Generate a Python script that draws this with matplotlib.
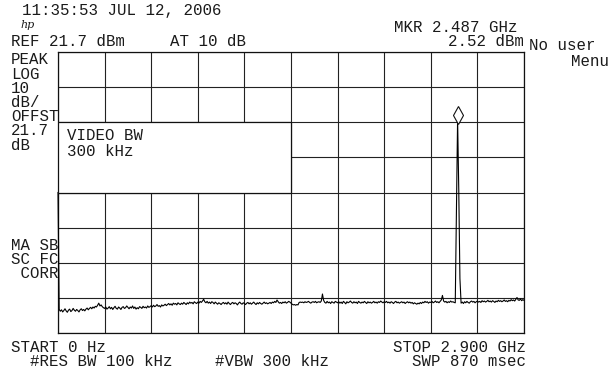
import numpy as np
import matplotlib
matplotlib.use("Agg")
import matplotlib.pyplot as plt
from matplotlib.patches import Rectangle
import matplotlib.transforms as mtransforms

# ---------------- data ----------------
start_ghz = 0.0
stop_ghz = 2.900
ref_level_dbm = 21.7
db_per_div = 10
n_hdiv = 10
n_vdiv = 8
marker_freq_ghz = 2.487
marker_level_dbm = 2.52

trace_dbm = [
    -18.3, -51.6, -52.1, -51.7, -52.3, -51.9, -51.4, -52.0, -52.4, -51.8, -51.5, -52.2, -51.9, -51.3, -51.8, -52.1, -51.6, -51.9, -52.3, -51.7,
    -51.4, -51.9, -51.6, -52.0, -51.5, -51.2, -51.7, -51.3, -51.0, -51.4, -50.9, -51.2, -50.7, -50.9, -50.4, -49.8, -50.6, -50.3, -50.8, -51.1,
    -51.3, -50.9, -51.5, -51.2, -50.8, -51.4, -51.0, -51.6, -51.1, -50.7, -51.3, -51.5, -50.9, -51.2, -51.6, -51.0, -50.8, -51.3, -51.1, -50.6,
    -51.0, -51.4, -50.9, -51.2, -50.6, -51.3, -50.9, -51.5, -51.1, -51.4, -50.8, -51.0, -51.3, -50.7, -51.1, -50.9, -51.2, -50.6, -51.0, -50.8,
    -50.5, -50.9, -50.4, -50.8, -50.6, -50.2, -50.7, -50.5, -50.9, -50.3, -50.6, -50.4, -50.1, -50.5, -50.2, -49.9, -50.3, -50.0, -50.4, -49.8,
    -50.1, -49.9, -50.3, -49.7, -50.0, -50.2, -49.8, -50.1, -49.6, -49.9, -50.2, -49.7, -50.0, -49.5, -49.8, -49.6, -50.0, -49.4, -49.7, -49.9,
    -49.5, -49.8, -49.3, -49.6, -49.2, -48.7, -49.4, -49.7, -49.3, -49.8, -49.5, -49.9, -49.4, -49.6, -50.0, -49.5, -49.8, -50.1, -49.7, -49.9,
    -50.2, -49.8, -49.6, -50.0, -49.7, -50.1, -49.5, -49.9, -50.2, -49.8, -49.6, -50.0, -49.7, -49.9, -50.3, -49.8, -49.5, -49.9, -50.1, -49.7,
    -49.9, -50.2, -49.8, -49.6, -50.0, -49.7, -50.1, -49.8, -49.5, -49.9, -50.2, -49.7, -50.0, -49.6, -49.9, -50.1, -49.8, -49.5, -49.9, -49.7,
    -50.0, -49.8, -49.6, -49.9, -49.5, -49.7, -49.3, -49.6, -48.9, -49.4, -49.8, -49.6, -49.9, -49.5, -49.7, -49.4, -49.8, -49.6, -49.3, -49.5,
    -49.8, -50.1, -50.3, -50.2, -50.4, -50.2, -50.3, -49.6, -49.5, -49.6, -49.5, -49.7, -49.4, -49.6, -49.5, -49.3, -49.6, -49.8, -49.5, -49.4,
    -49.6, -49.3, -49.7, -49.5, -49.4, -49.6, -49.2, -47.2, -49.0, -49.6, -49.8, -49.3, -49.7, -49.5, -49.9, -49.4, -49.6, -49.8, -49.3, -49.5,
    -49.7, -49.4, -49.8, -49.5, -49.9, -49.3, -49.6, -50.0, -49.4, -49.7, -49.5, -49.2, -49.6, -49.8, -49.4, -49.7, -49.5, -49.9, -49.3, -49.6,
    -49.8, -49.5, -49.7, -49.3, -49.6, -49.9, -49.4, -49.7, -49.5, -49.8, -49.6, -49.3, -49.7, -49.5, -49.8, -49.4, -49.6, -49.2, -49.5, -49.7,
    -49.4, -49.6, -49.3, -49.7, -49.5, -49.8, -49.4, -49.6, -49.9, -49.5, -49.3, -49.7, -49.5, -49.8, -49.6, -49.4, -49.7, -49.5, -49.9, -49.6,
    -49.4, -49.7, -49.5, -49.8, -49.6, -50.0, -49.7, -49.9, -50.1, -49.8, -50.0, -49.6, -49.9, -49.5, -49.7, -49.3, -49.6, -49.4, -49.8, -49.5,
    -49.6, -49.3, -49.7, -49.5, -49.2, -49.6, -49.4, -49.7, -49.3, -48.9, -47.6, -49.2, -49.5, -49.3, -49.7, -49.4, -49.6, -49.2, -49.5, -49.4,
    -49.6, -49.7, -23.5, 2.52, -17.5, -42.8, -49.8, -49.5, -49.9, -49.4, -49.7, -49.3, -49.6, -49.8, -49.4, -49.2, -49.5, -49.3, -49.7, -49.4,
    -49.2, -49.5, -49.3, -49.6, -49.1, -49.4, -49.2, -49.5, -49.3, -49.0, -49.4, -49.2, -49.5, -49.1, -49.3, -49.6, -49.2, -49.4, -49.0, -49.3,
    -49.1, -49.4, -49.2, -48.9, -49.3, -49.1, -49.4, -49.0, -49.2, -48.8, -49.1, -48.9, -49.2, -48.7, -48.2, -48.9, -49.0, -48.6, -49.1, -48.8,
    -49.0,
]

header_left = "11:35:53 JUL 12, 2006"
ref_text = "REF 21.7 dBm"
atten_text = "AT 10 dB"
mkr_freq_text = "MKR 2.487 GHz"
mkr_level_text = "2.52 dBm"
side_labels = ["PEAK", "LOG", "10", "dB/", "OFFST", "21.7", "dB"]
corr_labels = ["MA SB", "SC FC", " CORR"]
video_box_lines = ["VIDEO BW", "300 kHz"]
start_text = "START 0 Hz"
stop_text = "STOP 2.900 GHz"
res_bw_text = "#RES BW 100 kHz"
vbw_text = "#VBW 300 kHz"
swp_text = "SWP 870 msec"
menu_lines = ["No user", "Menu"]

# ---------------- figure ----------------
W, H = 609, 370
fig = plt.figure(figsize=(W / 100, H / 100), dpi=100)
fig.patch.set_facecolor("white")

def fx(px):
    return px / W

def fy(py):
    return 1 - py / H

L, T, R, B = 58, 52, 524, 333
ax = fig.add_axes([fx(L), fy(B), (R - L) / W, (B - T) / H])

bottom_dbm = ref_level_dbm - n_vdiv * db_per_div
freqs = np.linspace(start_ghz, stop_ghz, len(trace_dbm))

ax.set_xlim(start_ghz, stop_ghz)
ax.set_ylim(bottom_dbm, ref_level_dbm)
ax.set_xticks(np.linspace(start_ghz, stop_ghz, n_hdiv + 1))
ax.set_yticks(np.linspace(bottom_dbm, ref_level_dbm, n_vdiv + 1))
ax.tick_params(length=0, labelbottom=False, labelleft=False)
ax.grid(True, color="#222222", linewidth=0.8)
ax.set_axisbelow(True)
for s in ax.spines.values():
    s.set_color("#111111")
    s.set_linewidth(0.9)

ax.plot(freqs, trace_dbm, color="black", linewidth=0.8, zorder=3, clip_on=False)

# annotation box (VIDEO BW)
box = Rectangle((0.0, 0.5), 0.5, 0.25, transform=ax.transAxes,
                facecolor="white", edgecolor="#111111", linewidth=0.9, zorder=4)
ax.add_patch(box)

mono = "Liberation Mono"
fs = 11.3
tc = "#1a1a1a"
box_y = [136, 151]
for t, py in zip(video_box_lines, box_y):
    fig.text(fx(67), fy(py), t, family=mono, fontsize=fs, color=tc, va="center", ha="left", zorder=5)

# marker diamond, drawn just above the peak
offset = mtransforms.ScaledTranslation(0, 4 / 100, fig.dpi_scale_trans)
ax.plot([marker_freq_ghz], [marker_level_dbm], marker="d", markersize=9,
        markerfacecolor="white", markeredgecolor="#111111", markeredgewidth=0.8,
        transform=ax.transData + offset, zorder=6, clip_on=False)

# header texts
fig.text(fx(22), fy(11), header_left, family=mono, fontsize=fs, color=tc, va="center", ha="left")
fig.text(fx(20), fy(25), "hp", family="DejaVu Serif", style="italic", fontsize=8,
         color=tc, va="center", ha="left")
fig.text(fx(517), fy(27), mkr_freq_text, family=mono, fontsize=fs, color=tc, va="center", ha="right")
fig.text(fx(11), fy(41), ref_text, family=mono, fontsize=fs, color=tc, va="center", ha="left")
fig.text(fx(170), fy(41), atten_text, family=mono, fontsize=fs, color=tc, va="center", ha="left")
fig.text(fx(524), fy(41), mkr_level_text, family=mono, fontsize=fs, color=tc, va="center", ha="right")
fig.text(fx(529), fy(46), menu_lines[0], family=mono, fontsize=fs, color=tc, va="center", ha="left")
fig.text(fx(609), fy(61), menu_lines[1], family=mono, fontsize=fs, color=tc, va="center", ha="right")

for i, t in enumerate(side_labels):
    fig.text(fx(11), fy(60 + 14.2 * i), t, family=mono, fontsize=fs, color=tc, va="center", ha="left")
for i, t in enumerate(corr_labels):
    fig.text(fx(11), fy(245 + 14 * i), t, family=mono, fontsize=fs, color=tc, va="center", ha="left")

fig.text(fx(11), fy(348), start_text, family=mono, fontsize=fs, color=tc, va="center", ha="left")
fig.text(fx(526), fy(348), stop_text, family=mono, fontsize=fs, color=tc, va="center", ha="right")
fig.text(fx(30), fy(362), res_bw_text, family=mono, fontsize=fs, color=tc, va="center", ha="left")
fig.text(fx(215), fy(362), vbw_text, family=mono, fontsize=fs, color=tc, va="center", ha="left")
fig.text(fx(526), fy(362), swp_text, family=mono, fontsize=fs, color=tc, va="center", ha="right")

fig.savefig("out.png", dpi=100, facecolor="white")
